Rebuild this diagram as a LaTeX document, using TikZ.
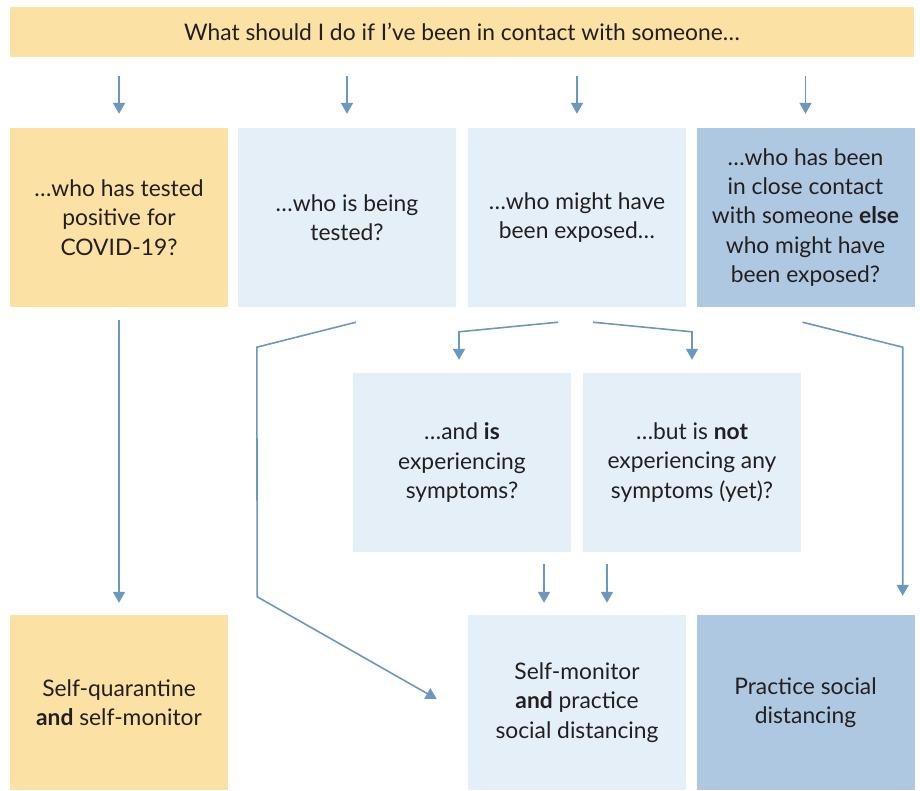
\documentclass[tikz,border=0pt]{standalone}
\usepackage{fontspec}
\setmainfont{Lato}
\usepackage{tikz}
\usetikzlibrary{arrows.meta,calc,positioning}
\definecolor{covorange}{HTML}{FCE1A4}
\definecolor{covbluel}{HTML}{E4EFF7}
\definecolor{covblue}{HTML}{ADC8E0}
\definecolor{covarrow}{HTML}{6B98BF}
\definecolor{covtext}{HTML}{231F20}

\begin{document}
\begin{tikzpicture}[x=1pt,y=-1pt,
  >={Triangle[width=12pt,length=11pt]},
  box/.style={fill=covbluel,inner sep=0pt,align=center,text=covtext,
              minimum width=218pt,minimum height=179pt,
              font=\fontsize{22.8}{29.3}\selectfont},
  warm/.style={box,fill=covorange},
  cool/.style={box,fill=covblue},
  arr/.style={->,covarrow,line width=1.6pt}]
  \useasboundingbox (0,0) rectangle (920,790);
  \node[warm,minimum width=904pt,minimum height=50pt](top) at (462,32)
    {What should I do if I’ve been in contact with someone…};
  \node[warm](q1) at (119,217.5) {…who has tested\\positive for\\COVID-19?};
  \node[box](q2) at (347,217.5) {…who is being\\tested?};
  \node[box](q3) at (577,217.5) {…who might have\\been exposed…};
  \node[cool](q4) at (805.5,217.5) {…who has been\\in close contact\\with someone \textbf{else}\\who might have\\been exposed?};
  \node[box](s1) at (462,462.5) {…and \textbf{is}\\experiencing\\symptoms?};
  \node[box](s2) at (692,462.5) {…but is \textbf{not}\\experiencing any\\symptoms (yet)?};
  \node[warm,minimum height=175pt](a1) at (119,702.5) {Self-quarantine\\\textbf{and} self-monitor};
  \node[box,minimum height=175pt](a2) at (577,702.5) {Self-monitor\\\textbf{and} practice\\social distancing};
  \node[cool,minimum height=175pt](a3) at (805.5,702.5) {Practice social\\distancing};
  % from the question to each case
  \draw[arr,shorten <=19pt,shorten >=14pt](q1.north |- top.south)--(q1.north);
  \draw[arr,shorten <=19pt,shorten >=14pt](q2.north |- top.south)--(q2.north);
  \draw[arr,shorten <=19pt,shorten >=14pt](q3.north |- top.south)--(q3.north);
  \draw[arr,shorten <=19pt,shorten >=14pt](q4.north |- top.south)--(q4.north);
  % to the actions
  \draw[arr,shorten <=13pt,shorten >=12pt](q1.south)--(a1.north);
  \draw[arr]($(q2.south)+(9,15)$)--($(q2.south west)+(19,40)$)
    --($(a1.north east)+(29,-18)$)--($(a2.west)+(-31,-3.5)$);
  \draw[arr]($(q3.south)+(-19,15)$)--($(s1.north)+(-3,-41)$)--($(s1.north)+(-3,-13)$);
  \draw[arr]($(q3.south)+(16,15)$)--($(s2.north)+(0,-41)$)--($(s2.north)+(0,-13)$);
  \draw[arr]($(q4.south)+(-3,15)$)--($(q4.south east)+(-12,40)$)--($(a3.north east)+(-12,-19)$);
  \draw[arr,shorten <=12pt,shorten >=12pt](s1.south -| 544,0)--(a2.north -| 544,0);
  \draw[arr,shorten <=12pt,shorten >=12pt](s2.south -| 607,0)--(a2.north -| 607,0);
\end{tikzpicture}
\end{document}
